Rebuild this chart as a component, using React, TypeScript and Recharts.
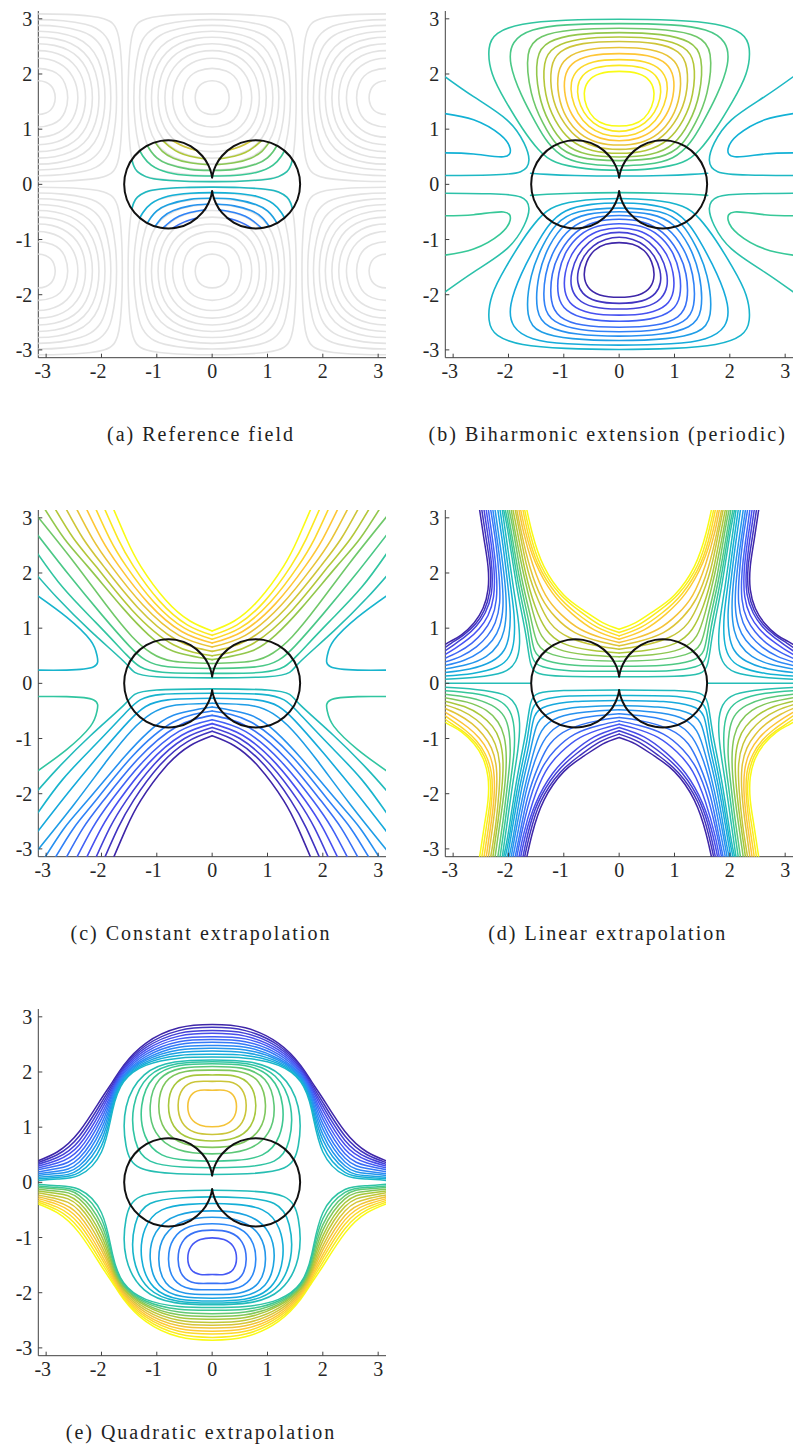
import { ScatterChart, Scatter, XAxis, YAxis } from 'recharts';

type Pt = [number, number];
type Curve = { pts: Pt[]; color: string; width: number; closed?: boolean };

const PI = 3.1416;
const HALF_PI = 1.5708;
const tickValues = [-3, -2, -1, 0, 1, 2, 3];
const captions = [
  '(a) Reference field',
  '(b) Biharmonic extension (periodic)',
  '(c) Constant extrapolation',
  '(d) Linear extrapolation',
  '(e) Quadratic extrapolation',
];

// black outline: right circle, upper half from the cusp to the right end
const outlineUpper: Pt[] = [
  [0, 0.125], [0.017, 0.207], [0.065, 0.338], [0.177, 0.514], [0.39, 0.693], [0.651, 0.788],
  [0.929, 0.788], [1.19, 0.693], [1.403, 0.514], [1.542, 0.274], [1.59, 0],
];

// (a) reference field: one quarter of each ring, offsets from the cell centre
const refRingQuarters: Pt[][] = [
  [[0, 0.318], [0.15, 0.282], [0.226, 0.226], [0.282, 0.15], [0.318, 0]],
  [[0, 0.555], [0.28, 0.485], [0.398, 0.398], [0.485, 0.28], [0.555, 0]],
  [[0, 0.723], [0.2, 0.699], [0.38, 0.632], [0.524, 0.524], [0.632, 0.38], [0.699, 0.2], [0.723, 0]],
  [[0, 0.863], [0.25, 0.834], [0.45, 0.764], [0.633, 0.633], [0.764, 0.45], [0.834, 0.25], [0.863, 0]],
  [[0, 0.988], [0.3, 0.957], [0.55, 0.869], [0.735, 0.735], [0.869, 0.55], [0.957, 0.3], [0.988, 0]],
  [[0, 1.104], [0.3, 1.081], [0.6, 0.994], [0.833, 0.833], [0.994, 0.6], [1.081, 0.3], [1.104, 0]],
  [[0, 1.213], [0.35, 1.189], [0.7, 1.095], [0.937, 0.937], [1.095, 0.7], [1.189, 0.35], [1.213, 0]],
  [[0, 1.318], [0.4, 1.296], [0.8, 1.204], [0.95, 1.127], [1.047, 1.047], [1.127, 0.95], [1.204, 0.8], [1.296, 0.4], [1.318, 0]],
  [[0, 1.42], [0.45, 1.403], [0.9, 1.327], [1.05, 1.264], [1.173, 1.173], [1.264, 1.05], [1.327, 0.9], [1.403, 0.45], [1.42, 0]],
  [[0, 1.521], [0.5, 1.514], [1.0, 1.478], [1.2, 1.432], [1.3, 1.383], [1.345, 1.345], [1.383, 1.3], [1.432, 1.2], [1.478, 1.0], [1.514, 0.5], [1.521, 0]],
];
const refCellCentres: Pt[] = [
  [0, HALF_PI], [0, -HALF_PI], [-PI, HALF_PI], [PI, HALF_PI], [-PI, -HALF_PI], [PI, -HALF_PI],
];
const refInsideLevels = [0.525, 0.575, 0.625, 0.675, 0.725, 0.775];
const refInsideHalves: Pt[][] = [
  [[0, 0.05], [0.5, 0.057], [1.0, 0.093], [1.2, 0.14], [1.35, 0.23], [1.42, 0.34], [1.45, 0.44]],
  [[0.01, 0.15], [0.4, 0.16], [0.8, 0.216], [1.1, 0.35], [1.25, 0.51], [1.31, 0.61]],
  [[0.03, 0.253], [0.4, 0.272], [0.8, 0.369], [1.0, 0.48], [1.1, 0.59], [1.17, 0.7]],
  [[0.07, 0.357], [0.4, 0.39], [0.7, 0.475], [0.9, 0.598], [1.03, 0.76]],
  [[0.12, 0.46], [0.4, 0.51], [0.6, 0.577], [0.75, 0.67], [0.89, 0.79]],
  [[0.27, 0.61], [0.5, 0.68], [0.71, 0.79]],
];

// (b) biharmonic: upper loops, right half from top to bottom
const bLoopLevels = [1.0, 0.955, 0.91, 0.865, 0.82, 0.775, 0.73, 0.685, 0.64, 0.595, 0.55];
const bLoopHalves: Pt[][] = [
  [[0, 2.06], [0.38, 2.02], [0.58, 1.88], [0.65, 1.65], [0.6, 1.4], [0.46, 1.18], [0.25, 1.07], [0, 1.05]],
  [[0, 2.17], [0.45, 2.13], [0.68, 1.98], [0.76, 1.78], [0.75, 1.56], [0.65, 1.3], [0.47, 1.1], [0.25, 0.99], [0, 0.945]],
  [[0, 2.27], [0.5, 2.24], [0.78, 2.08], [0.88, 1.85], [0.87, 1.6], [0.76, 1.28], [0.55, 1.03], [0.3, 0.9], [0, 0.855]],
  [[0, 2.38], [0.55, 2.35], [0.88, 2.2], [1.0, 1.95], [0.99, 1.6], [0.87, 1.25], [0.63, 0.97], [0.35, 0.82], [0, 0.776]],
  [[0, 2.49], [0.6, 2.46], [0.98, 2.3], [1.12, 2.05], [1.11, 1.6], [0.97, 1.2], [0.72, 0.9], [0.4, 0.74], [0, 0.7]],
  [[0, 2.6], [0.7, 2.57], [1.1, 2.42], [1.25, 2.15], [1.23, 1.6], [1.07, 1.2], [0.8, 0.85], [0.45, 0.66], [0, 0.62]],
  [[0, 2.68], [0.75, 2.65], [1.2, 2.5], [1.38, 2.25], [1.35, 1.6], [1.17, 1.15], [0.9, 0.78], [0.5, 0.59], [0, 0.55]],
  [[0, 2.76], [0.8, 2.73], [1.3, 2.6], [1.52, 2.35], [1.47, 1.6], [1.27, 1.1], [1.0, 0.7], [0.6, 0.52], [0, 0.485]],
  [[0, 2.84], [0.9, 2.81], [1.45, 2.7], [1.7, 2.45], [1.61, 1.6], [1.38, 1.1], [1.15, 0.7], [0.8, 0.47], [0, 0.41]],
  [[0, 2.92], [1.0, 2.9], [1.6, 2.82], [1.95, 2.6], [2.0, 2.2], [1.77, 1.6], [1.5, 1.1], [1.3, 0.75], [1.0, 0.45], [0.5, 0.35], [0, 0.33]],
  [[0, 3.0], [1.0, 2.98], [1.8, 2.92], [2.25, 2.75], [2.38, 2.5], [2.33, 2.0], [2.05, 1.5], [1.75, 1.0], [1.45, 0.6], [1.2, 0.38], [0.6, 0.27], [0, 0.25]],
];
// side tongues, left side, upper half
const bTongueLevels = [0.47, 0.43];
const bTongues: Pt[][] = [
  [[-3.2, 1.99], [-2.63, 1.59], [-2.03, 1.17], [-1.72, 0.75], [-1.63, 0.44], [-1.78, 0.23], [-2.33, 0.17], [-3.2, 0.16]],
  [[-3.2, 1.29], [-2.63, 1.17], [-2.15, 0.9], [-1.97, 0.65], [-2.09, 0.5], [-2.63, 0.55], [-3.2, 0.57]],
];
const bMidLevel = 0.47;
const bMidHalf: Pt[] = [[0, 0.15], [0.8, 0.16], [1.3, 0.18], [1.6, 0.2]];

// (c) constant extrapolation: upper curves, right half from the apex outward
const cLevels = [1.0, 0.955, 0.91, 0.865, 0.82, 0.775, 0.73, 0.685, 0.64, 0.595, 0.55, 0.51];
const cHalves: Pt[][] = [
  [[0, 0.95], [0.4, 1.13], [0.84, 1.51], [1.29, 2.12], [1.55, 2.62], [1.8, 3.2]],
  [[0, 0.87], [0.45, 1.06], [0.95, 1.49], [1.42, 2.12], [1.7, 2.62], [1.96, 3.2]],
  [[0, 0.8], [0.5, 1.0], [1.05, 1.47], [1.55, 2.12], [1.85, 2.62], [2.12, 3.2]],
  [[0, 0.73], [0.55, 0.94], [1.15, 1.45], [1.68, 2.12], [2.0, 2.62], [2.29, 3.2]],
  [[0, 0.66], [0.6, 0.87], [1.25, 1.42], [1.82, 2.12], [2.16, 2.62], [2.47, 3.2]],
  [[0, 0.58], [0.65, 0.79], [1.35, 1.38], [1.96, 2.12], [2.33, 2.62], [2.66, 3.2]],
  [[0, 0.5], [0.7, 0.7], [1.45, 1.33], [2.1, 2.12], [2.5, 2.62], [2.86, 3.2]],
  [[0, 0.43], [0.7, 0.58], [1.15, 0.88], [1.6, 1.35], [2.25, 2.12], [2.67, 2.62], [3.05, 3.2]],
  [[0, 0.36], [0.7, 0.4], [1.1, 0.55], [1.45, 0.85], [1.9, 1.4], [2.5, 2.2], [3.2, 3.08]],
  [[0, 0.27], [0.8, 0.3], [1.2, 0.42], [1.5, 0.68], [2.0, 1.25], [2.6, 1.98], [3.2, 2.75]],
  [[0, 0.18], [0.9, 0.2], [1.3, 0.3], [1.55, 0.52], [2.1, 1.1], [2.7, 1.74], [3.2, 2.42]],
  [[0, 0.1], [1.0, 0.12], [1.4, 0.2], [1.6, 0.4], [2.2, 0.95], [2.8, 1.55], [3.2, 2.0]],
];
const cTongueLevel = 0.45;
const cTongue: Pt[] = [[-3.2, 1.62], [-2.63, 1.2], [-2.2, 0.78], [-2.08, 0.5], [-2.14, 0.3], [-2.63, 0.24], [-3.2, 0.24]];

// (d) linear extrapolation: V curves (right half) and upper-right corner curves
const dVLevels = [1.0, 0.96, 0.92, 0.88, 0.84, 0.8, 0.76, 0.72, 0.68, 0.64, 0.6, 0.56, 0.52];
const dVHalves: Pt[][] = [
  [[0, 0.98], [0.3, 1.1], [0.64, 1.32], [1.0, 1.6], [1.36, 2.12], [1.57, 2.72], [1.68, 3.2]],
  [[0, 0.92], [0.35, 1.06], [0.7, 1.3], [1.07, 1.62], [1.42, 2.15], [1.61, 2.72], [1.72, 3.2]],
  [[0, 0.86], [0.4, 1.02], [0.78, 1.28], [1.14, 1.63], [1.47, 2.17], [1.65, 2.73], [1.75, 3.2]],
  [[0, 0.8], [0.45, 0.97], [0.85, 1.26], [1.2, 1.63], [1.51, 2.18], [1.69, 2.74], [1.79, 3.2]],
  [[0, 0.74], [0.3, 0.82], [0.7, 0.98], [1.05, 1.25], [1.33, 1.6], [1.56, 2.15], [1.73, 2.75], [1.82, 3.2]],
  [[0, 0.68], [0.35, 0.76], [0.8, 0.92], [1.15, 1.2], [1.4, 1.55], [1.61, 2.1], [1.77, 2.75], [1.86, 3.2]],
  [[0, 0.62], [0.4, 0.68], [0.9, 0.83], [1.25, 1.1], [1.46, 1.5], [1.65, 2.05], [1.8, 2.75], [1.89, 3.2]],
  [[0, 0.55], [0.5, 0.6], [1.0, 0.72], [1.32, 0.98], [1.52, 1.4], [1.69, 2.0], [1.84, 2.75], [1.93, 3.2]],
  [[0, 0.48], [0.6, 0.52], [1.1, 0.62], [1.4, 0.86], [1.56, 1.3], [1.72, 1.95], [1.88, 2.75], [1.96, 3.2]],
  [[0, 0.4], [0.7, 0.43], [1.2, 0.52], [1.47, 0.72], [1.6, 1.2], [1.76, 1.9], [1.91, 2.75], [2.0, 3.2]],
  [[0, 0.31], [0.8, 0.33], [1.3, 0.41], [1.53, 0.6], [1.63, 1.1], [1.79, 1.85], [1.95, 2.75], [2.03, 3.2]],
  [[0, 0.22], [0.9, 0.23], [1.38, 0.3], [1.57, 0.48], [1.66, 1.0], [1.82, 1.8], [1.98, 2.75], [2.07, 3.2]],
  [[0, 0.12], [1.0, 0.13], [1.45, 0.18], [1.6, 0.36], [1.69, 0.9], [1.85, 1.75], [2.01, 2.75], [2.1, 3.2]],
];
const dCornerLevels = [0.48, 0.432, 0.384, 0.336, 0.288, 0.24, 0.192, 0.144, 0.096, 0.048, 0];
const dCorners: Pt[][] = [
  [[2.12, 3.2], [2.02, 2.5], [1.92, 1.8], [1.83, 1.2], [1.8, 0.72], [1.87, 0.4], [2.1, 0.2], [2.6, 0.11], [3.2, 0.07]],
  [[2.16, 3.2], [2.06, 2.5], [1.97, 1.82], [1.9, 1.25], [1.9, 0.8], [1.98, 0.5], [2.2, 0.3], [2.65, 0.18], [3.2, 0.13]],
  [[2.2, 3.2], [2.1, 2.5], [2.02, 1.85], [1.97, 1.3], [1.99, 0.88], [2.08, 0.6], [2.3, 0.4], [2.7, 0.26], [3.2, 0.19]],
  [[2.25, 3.2], [2.15, 2.5], [2.07, 1.88], [2.04, 1.35], [2.08, 0.96], [2.19, 0.7], [2.4, 0.49], [2.75, 0.34], [3.2, 0.25]],
  [[2.29, 3.2], [2.19, 2.5], [2.12, 1.9], [2.1, 1.4], [2.16, 1.03], [2.29, 0.78], [2.5, 0.58], [2.8, 0.42], [3.2, 0.31]],
  [[2.33, 3.2], [2.23, 2.55], [2.17, 1.95], [2.16, 1.46], [2.24, 1.1], [2.38, 0.86], [2.58, 0.66], [2.86, 0.49], [3.2, 0.37]],
  [[2.37, 3.2], [2.28, 2.55], [2.22, 2.0], [2.22, 1.52], [2.31, 1.17], [2.46, 0.93], [2.66, 0.73], [2.92, 0.56], [3.2, 0.43]],
  [[2.41, 3.2], [2.32, 2.58], [2.26, 2.04], [2.27, 1.57], [2.37, 1.23], [2.53, 0.99], [2.73, 0.8], [2.97, 0.63], [3.2, 0.49]],
  [[2.45, 3.2], [2.36, 2.6], [2.3, 2.07], [2.31, 1.62], [2.42, 1.28], [2.58, 1.04], [2.78, 0.85], [3.0, 0.69], [3.2, 0.55]],
  [[2.49, 3.2], [2.4, 2.6], [2.33, 2.1], [2.34, 1.66], [2.44, 1.32], [2.6, 1.07], [2.82, 0.87], [3.03, 0.73], [3.2, 0.61]],
  [[2.53, 3.2], [2.44, 2.6], [2.37, 2.12], [2.37, 1.7], [2.46, 1.36], [2.62, 1.1], [2.85, 0.88], [3.05, 0.76], [3.2, 0.67]],
];
// horizontal teal contour from the disc to the side edge along y = 0
const dZeroLevel = 0.5;
const dZeroLine: Pt[] = [[1.59, 0], [2.4, 0], [3.2, 0]];

// (e) quadratic extrapolation: upper arches sampled at archX, and upper loops
const archX = [0, 0.6, 1.2, 1.6, 1.8, 2.0, 2.4, 2.8, 3.2];
const archLevels = [0, 0.042, 0.084, 0.125, 0.167, 0.21, 0.25, 0.29, 0.335, 0.375, 0.42, 0.46];
const archY: number[][] = [
  [2.86, 2.8, 2.52, 2.12, 1.82, 1.52, 0.92, 0.55, 0.37],
  [2.81, 2.75, 2.48, 2.09, 1.78, 1.45, 0.84, 0.5, 0.34],
  [2.75, 2.7, 2.44, 2.06, 1.74, 1.38, 0.76, 0.45, 0.31],
  [2.7, 2.65, 2.4, 2.03, 1.7, 1.31, 0.68, 0.4, 0.28],
  [2.64, 2.6, 2.36, 2.0, 1.66, 1.23, 0.6, 0.35, 0.25],
  [2.59, 2.55, 2.32, 1.97, 1.62, 1.15, 0.52, 0.3, 0.22],
  [2.54, 2.5, 2.28, 1.94, 1.58, 1.06, 0.44, 0.25, 0.18],
  [2.48, 2.45, 2.24, 1.92, 1.53, 0.97, 0.37, 0.2, 0.15],
  [2.43, 2.4, 2.21, 1.89, 1.48, 0.87, 0.3, 0.16, 0.12],
  [2.38, 2.35, 2.18, 1.87, 1.42, 0.77, 0.24, 0.12, 0.09],
  [2.32, 2.3, 2.15, 1.84, 1.36, 0.66, 0.18, 0.09, 0.06],
  [2.27, 2.25, 2.12, 1.82, 1.3, 0.55, 0.13, 0.06, 0.03],
];
const eLoopLevels = [0.84, 0.77, 0.71, 0.66, 0.62, 0.58, 0.545, 0.51];
const eLoopHalves: Pt[][] = [
  [[0, 1.66], [0.22, 1.69], [0.4, 1.6], [0.46, 1.38], [0.4, 1.14], [0.22, 1.02], [0, 1.0]],
  [[0, 1.82], [0.32, 1.85], [0.56, 1.72], [0.64, 1.4], [0.57, 1.06], [0.33, 0.88], [0, 0.86]],
  [[0, 1.94], [0.4, 1.96], [0.72, 1.8], [0.82, 1.4], [0.73, 0.99], [0.42, 0.77], [0, 0.74]],
  [[0, 2.03], [0.5, 2.04], [0.88, 1.87], [1.0, 1.4], [0.9, 0.93], [0.52, 0.66], [0, 0.62]],
  [[0, 2.1], [0.55, 2.1], [1.0, 1.92], [1.16, 1.4], [1.07, 0.87], [0.66, 0.55], [0, 0.5]],
  [[0, 2.15], [0.6, 2.15], [1.1, 1.96], [1.32, 1.4], [1.25, 0.8], [0.95, 0.45], [0.4, 0.39], [0, 0.38]],
  [[0, 2.19], [0.65, 2.18], [1.18, 1.99], [1.47, 1.4], [1.42, 0.72], [1.2, 0.33], [0.5, 0.27], [0, 0.26]],
  [[0, 2.22], [0.7, 2.21], [1.26, 2.02], [1.62, 1.4], [1.58, 0.6], [1.4, 0.2], [0.6, 0.15], [0, 0.14]],
];

// ---- colours (parula) ----
const parulaStops = ['#3e26a8', '#4852f4', '#2d87f7', '#12b1d6', '#37c897', '#abc739', '#fec338', '#f9fb15'];
const GRAY = '#e3e3e3';
const AXIS = '#404040';

function parula(t: number): string {
  const s = Math.max(0, Math.min(1, t)) * (parulaStops.length - 1);
  const i = Math.min(Math.floor(s), parulaStops.length - 2);
  const f = s - i;
  const a = parseInt(parulaStops[i].slice(1), 16);
  const b = parseInt(parulaStops[i + 1].slice(1), 16);
  const ch = (v: number, sh: number) => (v >> sh) & 255;
  const mix = (sh: number) => Math.round(ch(a, sh) + (ch(b, sh) - ch(a, sh)) * f);
  return `rgb(${mix(16)},${mix(8)},${mix(0)})`;
}

// ---- builders ----
const mirrorX = (p: Pt[]): Pt[] => p.map(([x, y]) => [-x, y] as Pt);
const flipY = (p: Pt[]): Pt[] => p.map(([x, y]) => [x, -y] as Pt);

// open curve given as right half; joined smoothly through x = 0 unless `kinked`
function symOpen(half: Pt[], kinked: boolean): Pt[][] {
  if (half[0][0] === 0 && !kinked) return [[...mirrorX(half).reverse(), ...half.slice(1)]];
  return [half, mirrorX(half)];
}
// closed loop given as right half from top (x = 0) to bottom (x = 0)
function symClosed(half: Pt[]): Pt[] {
  return [...half, ...mirrorX(half).slice(1, -1).reverse()];
}
function ringFromQuarter(q: Pt[], c: Pt): Pt[] {
  const br = flipY(q.slice().reverse()).slice(1);
  const bl = q.map(([x, y]) => [-x, -y] as Pt).slice(1);
  const tl = mirrorX(q.slice().reverse()).slice(1, -1);
  return [...q, ...br, ...bl, ...tl].map(([x, y]) => [x + c[0], y + c[1]] as Pt);
}

function outlineCurves(): Curve[] {
  const right = [...outlineUpper, ...flipY(outlineUpper).slice(0, -1).reverse()];
  return [right, mirrorX(right)].map((pts) => ({ pts, color: '#111111', width: 2 }));
}

// mirrored left-right, plus the lower copy with the colour scale reversed
function upperLower(halves: Pt[][], levels: number[], width: number, mode: 'smooth' | 'kinked' | 'closed' = 'smooth'): Curve[] {
  const out: Curve[] = [];
  const closed = mode === 'closed';
  halves.forEach((h, i) => {
    const pieces = closed ? [symClosed(h)] : symOpen(h, mode === 'kinked');
    pieces.forEach((pts) => {
      out.push({ pts, color: parula(levels[i]), width, closed });
      out.push({ pts: flipY(pts), color: parula(1 - levels[i]), width, closed });
    });
  });
  return out;
}

function sideCurves(shapes: Pt[][], levels: number[], width: number): Curve[] {
  const out: Curve[] = [];
  shapes.forEach((s, i) => {
    [s, mirrorX(s)].forEach((pts) => {
      out.push({ pts, color: parula(levels[i]), width });
      out.push({ pts: flipY(pts), color: parula(1 - levels[i]), width });
    });
  });
  return out;
}

function panelA(): Curve[] {
  const rings: Curve[] = [];
  refCellCentres.forEach((c) =>
    refRingQuarters.forEach((q) => rings.push({ pts: ringFromQuarter(q, c), color: GRAY, width: 1.6, closed: true }))
  );
  return [...rings, ...upperLower(refInsideHalves, refInsideLevels, 1.6), ...outlineCurves()];
}

function panelB(): Curve[] {
  return [
    ...upperLower(bLoopHalves, bLoopLevels, 1.6, 'closed'),
    ...sideCurves(bTongues, bTongueLevels, 1.6),
    ...upperLower([bMidHalf], [bMidLevel], 1.6),
    ...outlineCurves(),
  ];
}

function panelC(): Curve[] {
  return [
    ...upperLower(cHalves, cLevels, 1.6, 'kinked'),
    ...sideCurves([cTongue], [cTongueLevel], 1.6),
    ...outlineCurves(),
  ];
}

function panelD(): Curve[] {
  const zero: Curve[] = [dZeroLine, mirrorX(dZeroLine)].map((pts) => ({ pts, color: parula(dZeroLevel), width: 1.5 }));
  return [
    ...sideCurves(dCorners, dCornerLevels, 1.5),
    ...zero,
    ...upperLower(dVHalves, dVLevels, 1.5, 'kinked'),
    ...outlineCurves(),
  ];
}

function panelE(): Curve[] {
  const arches = archY.map((ys) => ys.map((y, j) => [archX[j], y] as Pt));
  return [
    ...upperLower(arches, archLevels, 1.5),
    ...upperLower(eLoopHalves, eLoopLevels, 1.6, 'closed'),
    ...outlineCurves(),
  ];
}

// ---- axes ----
const tickFont = { fontFamily: "'Liberation Serif', 'Times New Roman', serif", fontSize: 20, fill: '#262626' };

const BottomTick = (p: any) => {
  const v = p.payload.value as number;
  return (
    <g>
      <line x1={p.x} x2={p.x} y1={p.y - 6} y2={p.y - 10} stroke={AXIS} strokeWidth={1} />
      <text x={v < 0 ? p.x + 5 : p.x} y={p.y} dy="0.71em" textAnchor={v < 0 ? 'end' : 'middle'} {...tickFont}>
        {String(v)}
      </text>
    </g>
  );
};
const LeftTick = (p: any) => (
  <g>
    <line x1={p.x + 6} x2={p.x + 10} y1={p.y} y2={p.y} stroke={AXIS} strokeWidth={1} />
    <text x={p.x} y={p.y} dy="0.355em" textAnchor="end" {...tickFont}>
      {String(p.payload.value)}
    </text>
  </g>
);
const TopTick = (p: any) => <line x1={p.x} x2={p.x} y1={p.y} y2={p.y + 4} stroke={AXIS} strokeWidth={1} />;
const RightTick = (p: any) => <line x1={p.x} x2={p.x - 4} y1={p.y} y2={p.y} stroke={AXIS} strokeWidth={1} />;
const noDot = () => <g />;

function ContourPanel({ left, top, curves, caption }: { left: number; top: number; curves: Curve[]; caption: string }) {
  return (
    <div style={{ position: 'absolute', left, top, width: 386, height: 460 }}>
      <ScatterChart width={386} height={390} margin={{ top: 11, right: 0, bottom: 2, left: 0 }}>
        <XAxis type="number" dataKey="x" domain={[-PI, PI]} ticks={tickValues} interval={0} allowDataOverflow
          height={30.3} tickSize={0} tickMargin={6} tickLine={false} axisLine={{ stroke: AXIS }} tick={BottomTick} />
        <YAxis type="number" dataKey="y" domain={[-PI, PI]} ticks={tickValues} interval={0} allowDataOverflow
          width={38.3} tickSize={0} tickMargin={6} tickLine={false} axisLine={{ stroke: AXIS }} tick={LeftTick} />
        <XAxis xAxisId="top" orientation="top" type="number" domain={[-PI, PI]} ticks={tickValues} interval={0}
          allowDataOverflow height={0} tickSize={0} tickMargin={0} tickLine={false} axisLine={{ stroke: AXIS }} tick={TopTick} />
        <YAxis yAxisId="right" orientation="right" type="number" domain={[-PI, PI]} ticks={tickValues} interval={0}
          allowDataOverflow width={0} tickSize={0} tickMargin={0} tickLine={false} axisLine={{ stroke: AXIS }} tick={RightTick} />
        {curves.map((c, i) => (
          <Scatter
            key={i}
            data={c.pts.map(([x, y]) => ({ x, y }))}
            line={{ stroke: c.color, strokeWidth: c.width, strokeLinecap: 'round', strokeLinejoin: 'round' }}
            lineJointType={c.closed ? 'basisClosed' : 'natural'}
            shape={noDot}
            isAnimationActive={false}
          />
        ))}
      </ScatterChart>
      <div style={{ position: 'absolute', left: 0, top: 424, width: 402, textAlign: 'center', whiteSpace: 'nowrap',
        fontFamily: "'Liberation Serif', 'Times New Roman', serif", fontSize: 20, lineHeight: '20px',
        letterSpacing: 2, color: '#222' }}>
        {caption}
      </div>
    </div>
  );
}

const COLS = [0, 406.7];
const ROWS = [0, 499, 998];

export default function App() {
  const panels = [panelA(), panelB(), panelC(), panelD(), panelE()];
  return (
    <div style={{ position: 'relative', width: 793, height: 1450, background: '#fff', overflow: 'hidden' }}>
      <style>{'body{margin:0}'}</style>
      {panels.map((curves, i) => (
        <ContourPanel key={i} left={COLS[i % 2]} top={ROWS[Math.floor(i / 2)]} curves={curves} caption={captions[i]} />
      ))}
    </div>
  );
}
